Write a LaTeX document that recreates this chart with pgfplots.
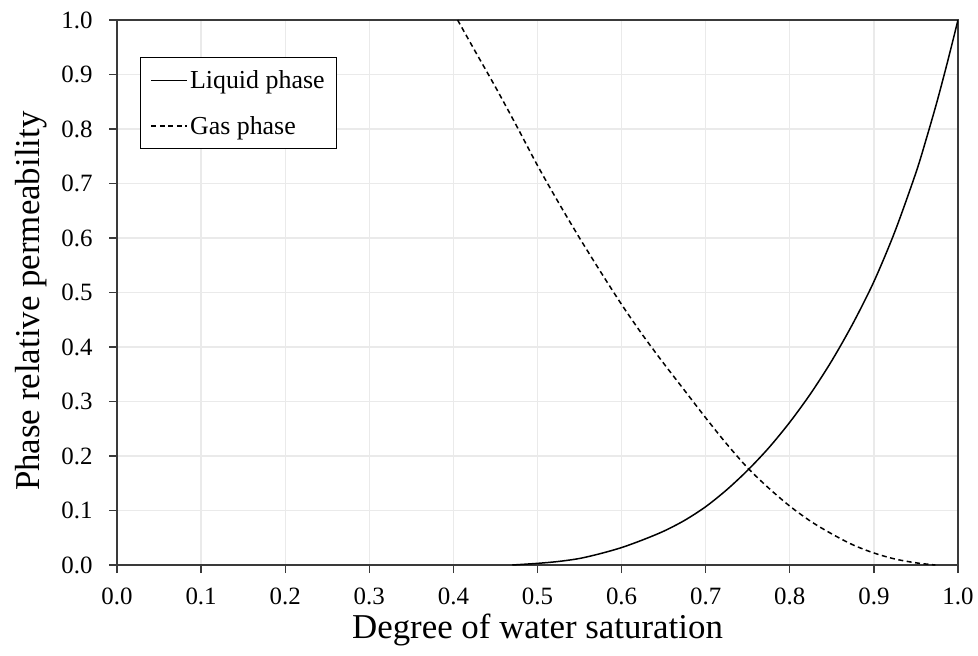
\documentclass[border=0pt]{standalone}
\usepackage{fontspec}
\setmainfont{Liberation Serif}
\usepackage{pgfplots}
\pgfplotsset{compat=1.18}
\definecolor{axgray}{HTML}{3A3A3A}
\definecolor{gridgray}{HTML}{EAEAEA}
\begin{document}
\begin{tikzpicture}
\begin{axis}[
  name=ax,
  scale only axis,
  width=841bp, height=545bp,
  xmin=0, xmax=1, ymin=0, ymax=1,
  xtick={0,0.1,0.2,0.3,0.4,0.5,0.6,0.7,0.8,0.9,1.0},
  ytick={0,0.1,0.2,0.3,0.4,0.5,0.6,0.7,0.8,0.9,1.0},
  xtick pos=bottom, ytick pos=left,
  tick align=outside,
  major tick length=8bp,
  tick style={axgray, line width=1.2bp},
  axis line style={axgray, line width=1.6bp},
  grid=major,
  major grid style={gridgray, line width=1.3bp},
  /pgf/number format/.cd, fixed, zerofill, precision=1, assume math mode=true,
  /pgfplots/.cd,
  ticklabel style={font=\fontsize{25}{25}\selectfont, black},
  xticklabel style={yshift=-11bp},
  yticklabel style={xshift=-13bp},
  xlabel={Degree of water saturation},
  ylabel={Phase relative permeability},
  label style={font=\fontsize{35}{35}\selectfont},
  xlabel style={at={(axis description cs:0.5,-0.119)}, anchor=center},
  ylabel style={at={(axis description cs:-0.1023,0.484)}, anchor=center},
  legend cell align=left,
  legend image code/.code={\draw[#1] (0bp,0bp) -- (36bp,0bp);},
  legend style={
    at={(axis description cs:0.0273,0.932)}, anchor=north west,
    draw=black, line width=1.2bp,
    font=\fontsize{26}{26}\selectfont,
    inner xsep=10bp, inner ysep=11bp,
    row sep=22bp,
    /tikz/every even column/.append style={column sep=2bp},
  },
]
\addplot[black, line width=1.5bp, smooth] coordinates {
(0.47,0) (0.50,0.003) (0.525,0.0065) (0.55,0.012) (0.575,0.021) (0.60,0.032)
(0.625,0.046) (0.65,0.062) (0.675,0.082) (0.70,0.107) (0.725,0.138) (0.75,0.174)
(0.775,0.215) (0.80,0.262) (0.825,0.315) (0.85,0.375) (0.875,0.443) (0.90,0.52)
(0.925,0.612) (0.95,0.72) (0.9625,0.783) (0.975,0.85) (0.9875,0.923) (1.00,1.0)
};
\addlegendentry{Liquid phase}
\addplot[black, line width=1.5bp, smooth, dash pattern=on 5bp off 3.5bp] coordinates {
(0.405,1.0) (0.425,0.945) (0.45,0.877) (0.475,0.806) (0.50,0.733) (0.525,0.665)
(0.55,0.60) (0.575,0.538) (0.60,0.478) (0.625,0.422) (0.65,0.37) (0.675,0.32)
(0.70,0.27) (0.725,0.222) (0.75,0.178) (0.775,0.141) (0.80,0.108) (0.825,0.08)
(0.85,0.057) (0.875,0.037) (0.90,0.022) (0.925,0.011) (0.95,0.004) (0.973,0)
};
\addlegendentry{Gas phase}
\end{axis}
\pgfresetboundingbox
\path ([shift={(-117bp,-91bp)}]ax.south west) rectangle ([shift={(20bp,20bp)}]ax.north east);
\end{tikzpicture}
\end{document}
